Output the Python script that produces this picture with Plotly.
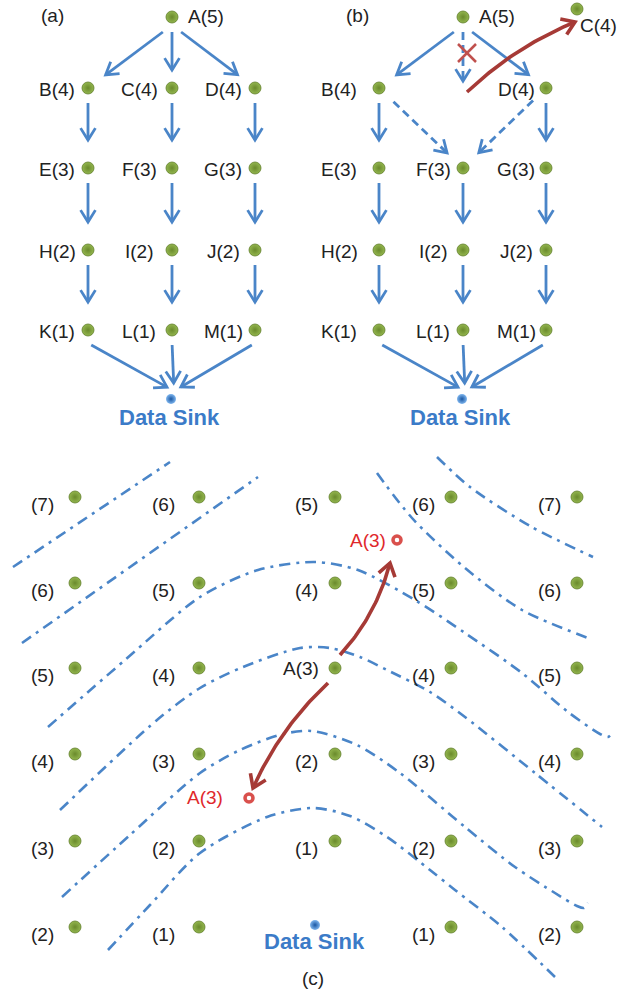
import math
import plotly.graph_objects as go

# ---------------- data ----------------
level_names = [["A"], ["B", "C", "D"], ["E", "F", "G"], ["H", "I", "J"], ["K", "L", "M"]]
level_hops = [[5], [4, 4, 4], [3, 3, 3], [2, 2, 2], [1, 1, 1]]
sink_text = "Data Sink"
panel_tags = ["(a)", "(b)", "(c)"]

# hop counts on the grid of panel (c); None marks the data sink
grid_hops = [
    [7, 6, 5, 6, 7],
    [6, 5, 4, 5, 6],
    [5, 4, 3, 4, 5],
    [4, 3, 2, 3, 4],
    [3, 2, 1, 2, 3],
    [2, 1, None, 1, 2],
]
moving_node = "A"
moving_hops = 3

# hop-count boundaries (dash-dot curves) of panel (c)
hop_boundaries = [
    [(13, 567), (170, 462)],
    [(22, 643), (258, 477)],
    [(48, 727), (125, 660), (200, 597), (258, 570), (315, 562), (358, 570), (415, 600),
     (465, 633), (522, 673), (568, 712), (600, 734), (608, 737), (613, 732)],
    [(60, 810), (157, 720), (200, 688), (243, 667), (300, 648), (330, 648), (360, 657),
     (387, 670), (430, 692), (465, 717), (535, 773), (602, 827)],
    [(62, 897), (130, 835), (200, 773), (240, 750), (283, 734), (312, 731), (357, 745),
     (400, 773), (465, 827), (515, 867), (555, 893), (577, 906), (584, 908), (588, 903)],
    [(108, 950), (150, 905), (200, 853), (267, 817), (313, 808), (350, 816), (387, 837),
     (430, 870), (455, 890), (502, 927), (555, 977)],
    [(377, 473), (412, 518), (465, 568), (522, 610), (588, 638)],
    [(437, 457), (470, 487), (530, 526), (593, 557)],
]

# ---------------- geometry & style ----------------
W, H = 631, 993
tree_col_x = [88, 172, 255]
tree_row_y = [17, 88, 168, 250, 330]
tree_sink = (171, 399)
panel_dx = [0, 291]
label_dx = [[-31, -33, -32], [-40, -30, -30]]
moved_c = (577, 9)

grid_col_x = [75, 199, 335, 451, 577]
grid_row_y = [497, 583, 668, 754, 841, 927]
grid_label_dx = [-33, -36, -29, -28, -28]
moved_up = (397, 540)
moved_down = (249, 798)

BLUE = "#4a85c8"
RED = "#a63a36"
GREEN_IN = "#93b64e"
GREEN_OUT = "#6a8a2c"
TXT = "#222222"
LABEL_FONT = dict(family="Liberation Sans, Arial, sans-serif", size=19, color=TXT)
SINK_FONT = dict(family="Liberation Sans, Arial, sans-serif", size=22, color="#3b7bc8",
                 weight="bold")

fig = go.Figure()
annotations = []


def text(x, y, s, font=LABEL_FONT, color=None):
    f = dict(font)
    if color:
        f["color"] = color
    annotations.append(dict(x=x, y=y, text=s, showarrow=False, xref="x", yref="y",
                            xanchor="center", yanchor="middle", font=f))


def unit(p, q):
    dx, dy = q[0] - p[0], q[1] - p[1]
    n = math.hypot(dx, dy)
    return dx / n, dy / n


def head(tip, u, length=14, ang=32):
    pts = []
    for s in (1, -1):
        th = math.radians(ang * s)
        rx = u[0] * math.cos(th) - u[1] * math.sin(th)
        ry = u[0] * math.sin(th) + u[1] * math.cos(th)
        pts.append((tip[0] - length * rx, tip[1] - length * ry))
    return [pts[0], tip, pts[1]]


class Paths:
    def __init__(self):
        self.x, self.y = [], []

    def add(self, pts):
        for p in pts:
            self.x.append(p[0])
            self.y.append(p[1])
        self.x.append(None)
        self.y.append(None)


solid_shafts, dashed_shafts, blue_heads = Paths(), Paths(), Paths()


def arrow(p, q, g0, g1, dashed=False, drop=None):
    """Arrow from node p toward q; with `drop`, the tail sits `drop` px below p,
    slid `g0` px sideways along the edge direction."""
    u = unit(p, q)
    if drop is None:
        a = (p[0] + u[0] * g0, p[1] + u[1] * g0)
    else:
        a = (p[0] + u[0] * g0, p[1] + drop)
        u = unit(a, q)
    b = (q[0] - u[0] * g1, q[1] - u[1] * g1)
    (dashed_shafts if dashed else solid_shafts).add([a, b])
    blue_heads.add(head(b, u))


def quad(p0, p2, bend, n=40):
    u = unit(p0, p2)
    mx, my = (p0[0] + p2[0]) / 2, (p0[1] + p2[1]) / 2
    p1 = (mx - u[1] * bend, my + u[0] * bend)
    pts = []
    for i in range(n + 1):
        t = i / n
        a, b, c = (1 - t) ** 2, 2 * t * (1 - t), t * t
        pts.append((a * p0[0] + b * p1[0] + c * p2[0], a * p0[1] + b * p1[1] + c * p2[1]))
    return pts, unit(p1, p2)


green_x, green_y, sink_x, sink_y = [], [], [], []

# ---------------- panels (a) and (b) ----------------
for k, dx in enumerate(panel_dx):
    pos = {}
    for li, names in enumerate(level_names):
        for ci, name in enumerate(names):
            col = 1 if li == 0 else ci
            pos[name] = (tree_col_x[col] + dx, tree_row_y[li])
    sink = (tree_sink[0] + dx, tree_sink[1])
    sink_x.append(sink[0])
    sink_y.append(sink[1])

    for li, names in enumerate(level_names):
        for ci, name in enumerate(names):
            hop = level_hops[li][ci]
            lab = f"{name}({hop})"
            if k == 1 and name == "C":
                p = moved_c
                green_x.append(p[0]); green_y.append(p[1])
                text(p[0] + 21, p[1] + 16, lab)
                continue
            p = pos[name]
            green_x.append(p[0]); green_y.append(p[1])
            if li == 0:
                text(p[0] + 34, p[1] - 1, lab)
            else:
                text(p[0] + label_dx[k][ci], p[1] + 1, lab)

    # edges from the root
    for name in level_names[1]:
        p, q = pos["A"], pos[name]
        if q[0] == p[0]:
            if k == 1:
                arrow(p, q, 15, 7, dashed=True)
            else:
                arrow(p, q, 15, 18)
        else:
            arrow(p, q, 12, 22, drop=15)
    # vertical chains
    for li in range(1, len(level_names) - 1):
        for ci in range(3):
            a, b = level_names[li][ci], level_names[li + 1][ci]
            if k == 1 and a == "C":
                continue
            arrow(pos[a], pos[b], 15, 28)
    if k == 1:
        arrow(pos["B"], pos["F"], 20, 22, dashed=True)
        arrow(pos["D"], pos["F"], 18, 22, dashed=True)
    # into the sink
    target = (sink[0] + 3, sink[1] - 8)
    for name in level_names[-1]:
        p = pos[name]
        if p[0] == target[0]:
            arrow(p, target, 15, 8)
        else:
            arrow(p, target, 4, 8, drop=15)

    text(52 + dx + (14 if k == 1 else 0), 15, panel_tags[k])
    text(sink[0] - 2, sink[1] + 18, sink_text, font=SINK_FONT)

# red cross on the broken link and the red move arrow in (b)
bx = (tree_col_x[1] + panel_dx[1] + 4, 53)
red_x = Paths()
red_x.add([(bx[0] - 9, bx[1] - 9), (bx[0] + 9, bx[1] + 9)])
red_x.add([(bx[0] - 9, bx[1] + 9), (bx[0] + 9, bx[1] - 9)])

red_curves, red_heads = Paths(), Paths()
c_start = (tree_col_x[1] + panel_dx[1] + 4, tree_row_y[1] + 4)
c_end = (moved_c[0] - 2, moved_c[1] + 13)
pts, u_end = quad(c_start, c_end, -12)
red_curves.add(pts)
red_heads.add(head(pts[-1], u_end, length=15, ang=34))

# ---------------- panel (c) ----------------
for ri, row in enumerate(grid_hops):
    for ci, hop in enumerate(row):
        x, y = grid_col_x[ci], grid_row_y[ri]
        if hop is None:
            sink_x.append(x - 20)
            sink_y.append(y - 2)
            text(x - 21, y + 14, sink_text, font=SINK_FONT)
            continue
        green_x.append(x); green_y.append(y)
        if (ri, ci) == (2, 2):
            text(x + grid_label_dx[ci] - 5, y, f"{moving_node}({hop})")
        else:
            text(x + grid_label_dx[ci], y + 7, f"({hop})")
text(313, 978, panel_tags[2])

src = (grid_col_x[2], grid_row_y[2])
for dst, lab_dx, lab_dy, p0off, p2off in [
    (moved_up, -29, 0, (5, -13), (-7, 23)),
    (moved_down, -44, -1, (-7, 15), (4, -10)),
]:
    p0 = (src[0] + p0off[0], src[1] + p0off[1])
    p2 = (dst[0] + p2off[0], dst[1] + p2off[1])
    pts, u_end = quad(p0, p2, 13)
    red_curves.add(pts)
    red_heads.add(head(pts[-1], u_end, length=15, ang=34))
    text(dst[0] + lab_dx, dst[1] + lab_dy, f"{moving_node}({moving_hops})", color="#e0282b")

for path in hop_boundaries:
    fig.add_trace(go.Scatter(
        x=[p[0] for p in path], y=[p[1] for p in path], mode="lines",
        line=dict(color=BLUE, width=2.6, dash="11px,6px,3px,6px", shape="spline", smoothing=0.8),
        hoverinfo="skip"))

# ---------------- draw ----------------
fig.add_trace(go.Scatter(x=solid_shafts.x, y=solid_shafts.y, mode="lines",
                         line=dict(color=BLUE, width=2.8), hoverinfo="skip"))
fig.add_trace(go.Scatter(x=dashed_shafts.x, y=dashed_shafts.y, mode="lines",
                         line=dict(color=BLUE, width=2.8, dash="8px,5px"), hoverinfo="skip"))
fig.add_trace(go.Scatter(x=blue_heads.x, y=blue_heads.y, mode="lines",
                         line=dict(color=BLUE, width=2.8), hoverinfo="skip"))
fig.add_trace(go.Scatter(x=red_x.x, y=red_x.y, mode="lines",
                         line=dict(color="#c0504d", width=2.5), hoverinfo="skip"))
fig.add_trace(go.Scatter(x=red_curves.x, y=red_curves.y, mode="lines",
                         line=dict(color=RED, width=3.6), hoverinfo="skip"))
fig.add_trace(go.Scatter(x=red_heads.x, y=red_heads.y, mode="lines",
                         line=dict(color=RED, width=3.6), hoverinfo="skip"))

fig.add_trace(go.Scatter(
    x=green_x, y=green_y, mode="markers", hoverinfo="skip",
    marker=dict(size=12, color=GREEN_IN, gradient=dict(type="radial", color=GREEN_OUT),
                line=dict(width=0.8, color="#5f7d28"))))
fig.add_trace(go.Scatter(
    x=sink_x, y=sink_y, mode="markers", hoverinfo="skip",
    marker=dict(size=10, color="#7fb6ee", gradient=dict(type="radial", color="#1a57a3"),
                line=dict(width=0))))
fig.add_trace(go.Scatter(
    x=[moved_up[0], moved_down[0]], y=[moved_up[1], moved_down[1]], mode="markers",
    hoverinfo="skip",
    marker=dict(size=8, color="white", line=dict(color="#d9504c", width=3.5))))

fig.update_layout(
    width=W, height=H, margin=dict(l=0, r=0, t=0, b=0),
    paper_bgcolor="white", plot_bgcolor="white", showlegend=False,
    xaxis=dict(range=[0, W], visible=False, fixedrange=True),
    yaxis=dict(range=[H, 0], visible=False, fixedrange=True),
    annotations=annotations,
)
fig.write_html("out.html")
